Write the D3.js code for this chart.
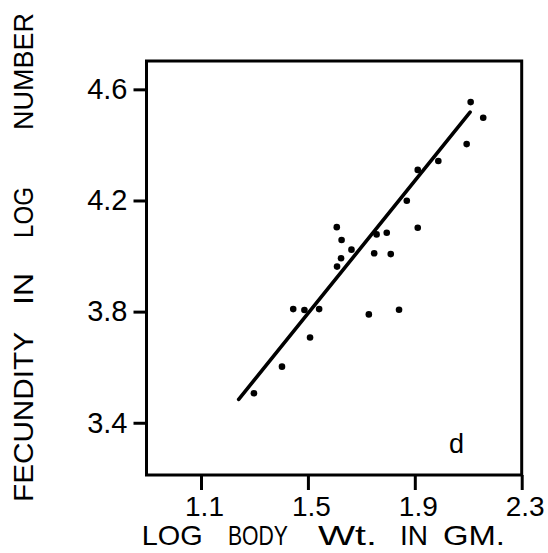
<!DOCTYPE html>
<html>
<head>
<meta charset="utf-8">
<script src="https://cdn.jsdelivr.net/npm/d3@7"></script>
<style>
  html, body { margin: 0; padding: 0; background: #fff; }
  svg { display: block; }
  text { font-family: "Liberation Sans", Arial, sans-serif; fill: #000; }
</style>
</head>
<body>
<script>
// ---- data ----
const bodyWt = [2.109, 2.156, 2.094, 1.988, 1.911, 1.870, 1.911, 1.757, 1.795, 1.748, 1.810, 1.663,
                1.608, 1.626, 1.624, 1.609, 1.445, 1.487, 1.542, 1.728, 1.841, 1.508, 1.403, 1.298];
const fecundity = [4.554, 4.498, 4.403, 4.342, 4.310, 4.199, 4.102, 4.078, 4.084, 4.010, 4.007, 4.023,
                   4.104, 4.058, 3.992, 3.962, 3.809, 3.806, 3.809, 3.790, 3.807, 3.707, 3.602, 3.506];
const fitX = [1.241, 2.107];
const fitY = [3.484, 4.518];
const xTicks = [1.1, 1.5, 1.9, 2.3];
const yTicks = [3.4, 3.8, 4.2, 4.6];
const xDomain = [0.896, 2.3];
const yDomain = [3.212, 4.702];
const panelLabel = "d";
const xTitleWords = ["LOG", "BODY", "Wt.", "IN", "GM."];
const yTitleWords = ["FECUNDITY", "IN", "LOG", "NUMBER"];

// ---- layout ----
const W = 548, H = 553;
const frame = { left: 146.5, right: 521.7, top: 61, bottom: 475 };

const svg = d3.select("body").append("svg").attr("width", W).attr("height", H);

const x = d3.scaleLinear().domain(xDomain).range([frame.left, frame.right]);
const y = d3.scaleLinear().domain(yDomain).range([frame.bottom, frame.top]);

// frame
svg.append("rect")
  .attr("x", frame.left).attr("y", frame.top)
  .attr("width", frame.right - frame.left).attr("height", frame.bottom - frame.top)
  .attr("fill", "none").attr("stroke", "#000").attr("stroke-width", 3);

// y axis
const yAxis = svg.append("g")
  .attr("transform", `translate(${frame.left},0)`)
  .call(d3.axisLeft(y).tickValues(yTicks).tickFormat(d3.format(".1f")).tickSizeInner(13).tickSizeOuter(0).tickPadding(6));
yAxis.select(".domain").remove();
yAxis.selectAll("line").attr("stroke", "#000").attr("stroke-width", 3);
yAxis.selectAll("text").attr("font-size", 29).attr("font-family", "Liberation Sans, Arial, sans-serif").attr("fill", "#000");

// x axis
const xAxis = svg.append("g")
  .attr("transform", `translate(0,${frame.bottom})`)
  .call(d3.axisBottom(x).tickValues(xTicks).tickFormat(d3.format(".1f")).tickSizeInner(15).tickSizeOuter(0).tickPadding(6));
xAxis.select(".domain").remove();
xAxis.selectAll("line").attr("stroke", "#000").attr("stroke-width", 3);
xAxis.selectAll("text").attr("font-size", 28).attr("font-family", "Liberation Sans, Arial, sans-serif").attr("fill", "#000")
  .attr("dx", 3);

// regression line
svg.append("line")
  .attr("x1", x(fitX[0])).attr("y1", y(fitY[0]))
  .attr("x2", x(fitX[1])).attr("y2", y(fitY[1]))
  .attr("stroke", "#000").attr("stroke-width", 3.6).attr("stroke-linecap", "round");

// points
svg.append("g").selectAll("circle")
  .data(d3.range(bodyWt.length))
  .join("circle")
  .attr("cx", i => x(bodyWt[i]))
  .attr("cy", i => y(fecundity[i]))
  .attr("r", 3.3)
  .attr("fill", "#000");

// panel label
svg.append("text").attr("x", 449).attr("y", 453).attr("font-size", 27).text(panelLabel);

// x title words: [left, width]
const xWordPos = [[141.7, 61], [228, 60], [318, 59], [400, 28], [443, 62]];
xTitleWords.forEach((w, i) => {
  svg.append("text")
    .attr("x", xWordPos[i][0]).attr("y", 545)
    .attr("font-size", 28)
    .attr("textLength", xWordPos[i][1]).attr("lengthAdjust", "spacingAndGlyphs")
    .text(w);
});

// y title words, rotated; [bottom y, length]
const yWordPos = [[502, 170], [305, 32], [238, 51], [130, 117]];
yTitleWords.forEach((w, i) => {
  svg.append("text")
    .attr("transform", `translate(33,${yWordPos[i][0]}) rotate(-90)`)
    .attr("font-size", 28)
    .attr("textLength", yWordPos[i][1]).attr("lengthAdjust", "spacingAndGlyphs")
    .text(w);
});
</script>
</body>
</html>
